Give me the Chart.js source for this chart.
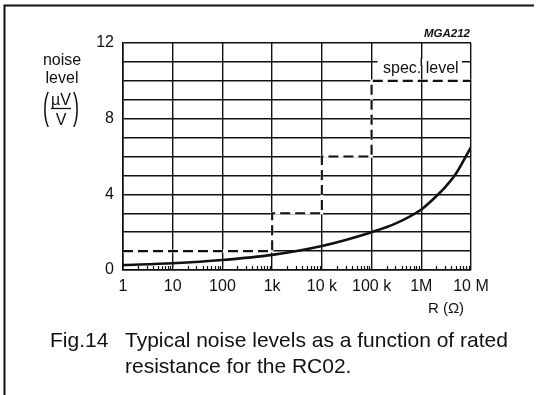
<!DOCTYPE html>
<html>
<head>
<meta charset="utf-8">
<script src="https://cdn.jsdelivr.net/npm/chart.js@4/dist/chart.umd.min.js"></script>
<style>
  html, body { margin: 0; padding: 0; background: #fff; }
  #wrap { position: relative; width: 546px; height: 395px; overflow: hidden; }
  canvas { display: block; }
</style>
</head>
<body>
<div id="wrap"><canvas id="noiseChart" width="546" height="395"></canvas></div>
<script>
// Data
const curveR = [1, 10, 100, 1e3, 1e4, 1e5, 3e5, 1e6, 2e6, 3e6, 5e6, 1e7];
const curveNoise = [0.26, 0.36, 0.53, 0.8, 1.27, 2.0, 2.45, 3.2, 3.9, 4.37, 5.1, 6.5];

const specR = [1, 1e3, 1e3, 1e4, 1e4, 1e5, 1e5, 1e7];
const specNoise = [1, 1, 3, 3, 6, 6, 10, 10];

const xTickValues = [1, 10, 100, 1e3, 1e4, 1e5, 1e6, 1e7];
const xTickLabels = ["1", "10", "100", "1k", "10 k", "100 k", "1M", "10 M"];
const yLabelled = [0, 4, 8, 12];

const FONT = '"Liberation Sans", Arial, Helvetica, sans-serif';
const INK = "#111";

// Minor ticks, spec label, titles, caption and frame
const overlay = {
  id: "overlay",
  beforeDatasetsDraw(chart) {
    const { ctx, chartArea, scales: { x, y } } = chart;
    ctx.save();
    ctx.strokeStyle = INK;
    ctx.lineWidth = 1.2;
    for (let k = 0; k < 7; k++) {
      for (let m = 2; m < 10; m++) {
        const px = Math.round(x.getPixelForValue(m * Math.pow(10, k))) + 0.5;
        ctx.beginPath();
        ctx.moveTo(px, chartArea.bottom);
        ctx.lineTo(px, chartArea.bottom - 4);
        ctx.stroke();
      }
    }

    // "spec. level" label breaks the 11 gridline
    const yl = y.getPixelForValue(11);
    const x0 = x.getPixelForValue(1e5) + 6;
    const x1 = x.getPixelForValue(1e7) - 9;
    ctx.fillStyle = "#fff";
    ctx.fillRect(x0, yl - 3, x1 - x0, 6);
    const xm = x.getPixelForValue(1e6);
    ctx.lineWidth = 1.4;
    ctx.beginPath();
    ctx.moveTo(xm, yl - 4);
    ctx.lineTo(xm, yl + 4);
    ctx.stroke();
    ctx.fillStyle = INK;
    ctx.font = "16px " + FONT;
    ctx.textAlign = "left";
    ctx.textBaseline = "alphabetic";
    ctx.fillText("spec. level", 383, 73);
    ctx.restore();
  },
  afterDraw(chart) {
    const { ctx } = chart;
    ctx.save();
    ctx.fillStyle = INK;
    ctx.strokeStyle = INK;
    ctx.textBaseline = "alphabetic";

    // Y title
    ctx.textAlign = "center";
    ctx.font = "16px " + FONT;
    ctx.fillText("noise", 62, 65);
    ctx.fillText("level", 62, 83);
    ctx.fillText("\u00B5V", 61, 105);
    ctx.fillText("V", 61, 125);
    ctx.lineWidth = 1.3;
    ctx.beginPath();
    ctx.moveTo(51, 108.5);
    ctx.lineTo(71, 108.5);
    ctx.stroke();
    // tall thin parentheses
    ctx.font = "18px " + FONT;
    ctx.save();
    ctx.translate(46, 119);
    ctx.scale(1, 2.05);
    ctx.fillText("(", 0, 0);
    ctx.restore();
    ctx.save();
    ctx.translate(76, 119);
    ctx.scale(1, 2.05);
    ctx.fillText(")", 0, 0);
    ctx.restore();

    // Figure code
    ctx.textAlign = "right";
    ctx.font = "italic bold 11.5px " + FONT;
    ctx.fillText("MGA212", 470, 37);

    // X title
    ctx.textAlign = "center";
    ctx.font = "15px " + FONT;
    ctx.fillText("R (\u03A9)", 446, 313);

    // Caption
    ctx.textAlign = "left";
    ctx.font = "21px " + FONT;
    ctx.fillText("Fig.14", 50, 347);
    ctx.fillText("Typical noise levels as a function of rated", 125, 347);
    ctx.fillText("resistance for the RC02.", 125, 373);

    // Frame (top and left)
    ctx.lineWidth = 2;
    ctx.beginPath();
    ctx.moveTo(534, 5.5);
    ctx.lineTo(4.5, 5.5);
    ctx.lineTo(4.5, 395);
    ctx.stroke();
    ctx.restore();
  }
};

const specPoints = specR.map((r, i) => ({ x: r, y: specNoise[i] }));

const ctx = document.getElementById("noiseChart").getContext("2d");
new Chart(ctx, {
  type: "line",
  data: {
    datasets: [
      {
        label: "typical",
        data: curveR.map((r, i) => ({ x: r, y: curveNoise[i] })),
        borderColor: INK,
        borderWidth: 2.6,
        pointRadius: 0,
        cubicInterpolationMode: "monotone",
        fill: false,
        order: 0
      },
      {
        label: "spec. level",
        data: specPoints,
        borderColor: INK,
        borderWidth: 2.1,
        borderDash: [10, 5],
        pointRadius: 0,
        tension: 0,
        fill: false,
        order: 1
      },
      {
        // white underlay so the dash gaps hide the gridline beneath
        label: "spec. backing",
        data: specPoints,
        borderColor: "#fff",
        borderWidth: 2.6,
        pointRadius: 0,
        tension: 0,
        fill: false,
        order: 2
      }
    ]
  },
  options: {
    responsive: false,
    animation: false,
    layout: { padding: { top: 43, right: 75, left: 0, bottom: 0 } },
    plugins: { legend: { display: false }, tooltip: { enabled: false } },
    scales: {
      x: {
        type: "logarithmic",
        min: 1,
        max: 1e7,
        afterBuildTicks: (scale) => { scale.ticks = xTickValues.map(v => ({ value: v })); },
        afterFit: (scale) => { scale.height = 125; },
        ticks: {
          autoSkip: false,
          maxRotation: 0,
          padding: 7,
          color: INK,
          font: { family: FONT, size: 16 },
          callback: (v, i) => xTickLabels[i]
        },
        grid: { color: INK, lineWidth: 1.4, drawTicks: false },
        border: { color: INK, width: 1.6 }
      },
      y: {
        min: 0,
        max: 12,
        afterFit: (scale) => { scale.width = 123; },
        ticks: {
          stepSize: 1,
          maxTicksLimit: 13,
          autoSkip: false,
          padding: 9,
          color: INK,
          font: { family: FONT, size: 16 },
          callback: (v) => (yLabelled.includes(v) ? String(v) : "")
        },
        grid: { color: INK, lineWidth: 1.4, drawTicks: false },
        border: { color: INK, width: 1.6 }
      }
    }
  },
  plugins: [overlay]
});
</script>
</body>
</html>
